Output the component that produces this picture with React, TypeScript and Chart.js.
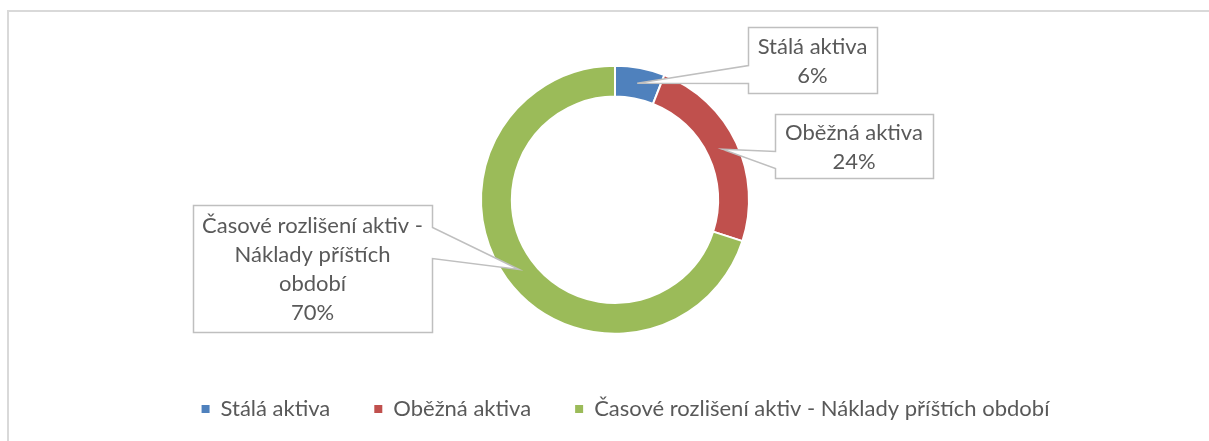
import { useEffect, useRef } from "react";
import { Chart, registerables } from "chart.js";

Chart.register(...registerables);

// ---- data ----
const categories = [
  "Stálá aktiva",
  "Oběžná aktiva",
  "Časové rozlišení aktiv - Náklady příštích období",
];
const values = [6, 24, 70];
const sliceColors = ["#4F81BD", "#C0504D", "#9BBB59"];
// line breaks of the data-label callouts (as in the original)
const calloutLines = [
  ["Stálá aktiva"],
  ["Oběžná aktiva"],
  ["Časové rozlišení aktiv -", "Náklady příštích", "období"],
];

// ---- style / layout ----
const FONT_FAMILY = "Lato, 'Open Sans', sans-serif";
const FONT_SIZE = 22;
const TEXT_COLOR = "#595959";
const LINE_COLOR = "#BFBFBF";
const LINE_HEIGHT = 29;
const LEGEND_GAP = 44;
const CALLOUTS = [
  { x: 748, y: 27, w: 129, h: 66, side: "left", b1: 65, b2: 83 },
  { x: 775, y: 114, w: 158, h: 64, side: "left", b1: 151, b2: 168 },
  { x: 193, y: 205, w: 239, h: 127, side: "right", b1: 227, b2: 258 },
];

const frameAndCallouts = {
  id: "frameAndCallouts",
  beforeDraw(chart: any) {
    const ctx = chart.ctx;
    ctx.save();
    ctx.strokeStyle = "#D9D9D9";
    ctx.lineWidth = 2;
    ctx.strokeRect(8, 11, 1400, 600);
    ctx.restore();
  },
  afterDatasetsDraw(chart: any) {
    const ctx = chart.ctx;
    const meta = chart.getDatasetMeta(0);
    const total = values.reduce((a, b) => a + b, 0);
    meta.data.forEach((arc: any, i: number) => {
      const c = CALLOUTS[i];
      if (!c) return;
      const tip = arc.getCenterPoint();
      const L = c.x + 0.5;
      const T = c.y + 0.5;
      const R = c.x + c.w + 0.5;
      const B = c.y + c.h + 0.5;
      ctx.save();
      ctx.beginPath();
      if (c.side === "left") {
        ctx.moveTo(L, T);
        ctx.lineTo(R, T);
        ctx.lineTo(R, B);
        ctx.lineTo(L, B);
        ctx.lineTo(L, c.b2 + 0.5);
        ctx.lineTo(tip.x, tip.y);
        ctx.lineTo(L, c.b1 + 0.5);
      } else {
        ctx.moveTo(L, T);
        ctx.lineTo(R, T);
        ctx.lineTo(R, c.b1 + 0.5);
        ctx.lineTo(tip.x, tip.y);
        ctx.lineTo(R, c.b2 + 0.5);
        ctx.lineTo(R, B);
        ctx.lineTo(L, B);
      }
      ctx.closePath();
      ctx.fillStyle = "#FFFFFF";
      ctx.fill();
      ctx.strokeStyle = LINE_COLOR;
      ctx.lineWidth = 1.5;
      ctx.stroke();

      const lines = [...calloutLines[i], Math.round((values[i] / total) * 100) + "%"];
      ctx.fillStyle = TEXT_COLOR;
      ctx.font = `${FONT_SIZE}px ${FONT_FAMILY}`;
      ctx.textAlign = "center";
      ctx.textBaseline = "middle";
      const cx = c.x + c.w / 2;
      const cy = c.y + c.h / 2 + 1;
      lines.forEach((t, k) => {
        ctx.fillText(t, cx, cy + (k - (lines.length - 1) / 2) * LINE_HEIGHT);
      });
      ctx.restore();
    });
  },
};

export default function App() {
  const canvasRef = useRef<HTMLCanvasElement | null>(null);

  useEffect(() => {
    document.body.style.margin = "0";
    const canvas = canvasRef.current;
    if (!canvas) return;
    const chart = new Chart(canvas, {
      type: "doughnut",
      data: {
        labels: categories,
        datasets: [
          {
            data: values,
            backgroundColor: sliceColors,
            borderColor: "#FFFFFF",
            borderWidth: 2,
            hoverOffset: 0,
          },
        ],
      },
      options: {
        responsive: false,
        animation: false,
        devicePixelRatio: 1,
        radius: 134,
        cutout: "77%",
        layout: { padding: { left: 42, right: 0, top: 45.5, bottom: 11 } },
        plugins: {
          tooltip: { enabled: false },
          // empty spacer on the right so the legend sits slightly right of the ring centre
          title: {
            display: true,
            position: "right",
            text: "",
            font: { size: 1 },
            padding: { top: 0, bottom: 19.8 },
          },
          legend: {
            position: "bottom",
            labels: {
              boxWidth: 8,
              boxHeight: 8,
              padding: LEGEND_GAP,
              color: TEXT_COLOR,
              font: { family: FONT_FAMILY, size: FONT_SIZE },
              generateLabels: () =>
                categories.map((c, i) => ({
                  text: c,
                  fillStyle: sliceColors[i],
                  strokeStyle: sliceColors[i],
                  lineWidth: 0,
                  hidden: false,
                  index: i,
                  fontColor: TEXT_COLOR,
                })),
            },
          },
        },
      },
      plugins: [frameAndCallouts],
    });
    return () => chart.destroy();
  }, []);

  return (
    <div style={{ position: "absolute", left: 0, top: 0, width: 1209, height: 441 }}>
      <canvas ref={canvasRef} width={1209} height={441} style={{ display: "block" }} />
    </div>
  );
}
